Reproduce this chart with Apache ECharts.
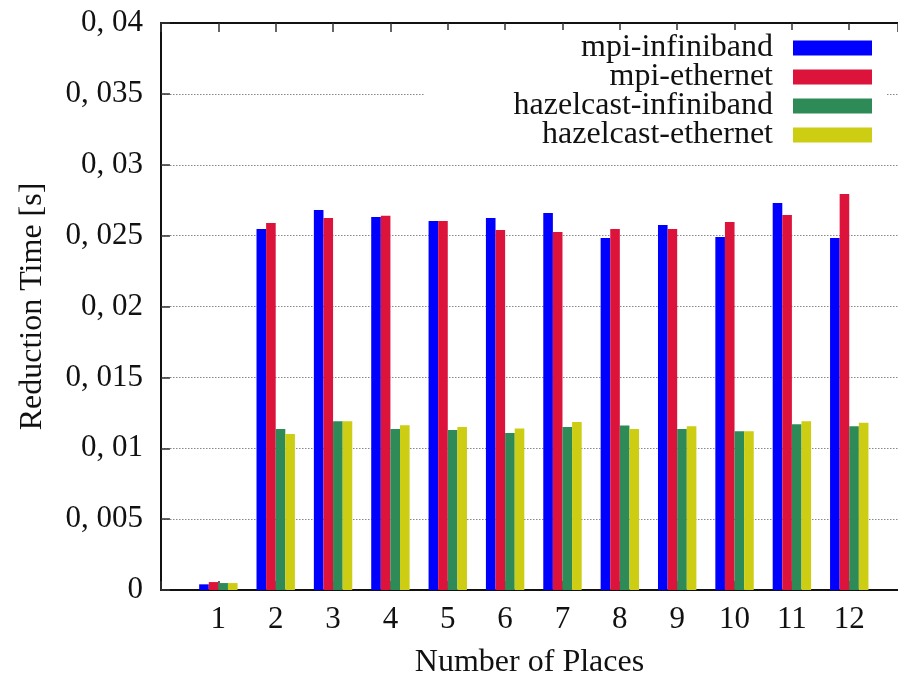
<!DOCTYPE html>
<html>
<head>
<meta charset="utf-8">
<script src="https://cdn.jsdelivr.net/npm/echarts@6/dist/echarts.min.js"></script>
<style>
  html, body { margin: 0; padding: 0; background: #fff; }
  #chart { width: 898px; height: 677px; }
</style>
</head>
<body>
<div id="chart"></div>
<script>
// Number of places (x positions of the bar groups)
const places = [1, 2, 3, 4, 5, 6, 7, 8, 9, 10, 11, 12];

// Reduction time in seconds for each configuration
const mpiInfiniband       = [0.00040, 0.02547, 0.02681, 0.02631, 0.02603, 0.02624, 0.02660, 0.02483, 0.02575, 0.02490, 0.02730, 0.02483];
const mpiEthernet         = [0.00056, 0.02589, 0.02624, 0.02641, 0.02603, 0.02540, 0.02526, 0.02547, 0.02547, 0.02596, 0.02646, 0.02794];
const hazelcastInfiniband = [0.00049, 0.01135, 0.01190, 0.01135, 0.01128, 0.01107, 0.01150, 0.01160, 0.01135, 0.01120, 0.01170, 0.01156];
const hazelcastEthernet   = [0.00049, 0.01100, 0.01190, 0.01163, 0.01150, 0.01140, 0.01185, 0.01135, 0.01156, 0.01120, 0.01190, 0.01180];

const seriesNames = ['mpi-infiniband', 'mpi-ethernet', 'hazelcast-infiniband', 'hazelcast-ethernet'];
const seriesValues = [mpiInfiniband, mpiEthernet, hazelcastInfiniband, hazelcastEthernet];
const seriesColors = ['#0000ff', '#dc143c', '#2e8b57', '#cdcd14'];

const FONT = '"Liberation Serif", "DejaVu Serif", serif';

// x range runs from 0 to 13; the window cuts the plot just before 13
const X_MIN = 0;
const X_MAX = 12.85;

// y tick labels use a decimal comma: 0, 005
function fmtY(v) {
  if (v === 0) return '0';
  return String(Number(v.toFixed(3))).replace('.', ', ');
}

const chart = echarts.init(document.getElementById('chart'), null, { renderer: 'canvas' });

const axisLineStyle = { color: '#111', width: 2 };
const tickStyle = { show: true, inside: true, length: 9, lineStyle: { color: '#333', width: 1.5 } };

chart.setOption({
  animation: false,
  backgroundColor: '#fff',
  grid: { left: 161, top: 23, right: 0, height: 567, containLabel: false, outerBoundsMode: 'none' },
  graphic: [{
    type: 'rect',
    z: 1,
    shape: { x: 425, y: 30, width: 462, height: 118 },
    style: { fill: '#fff' }
  }],
  legend: {
    z: 5,
    orient: 'vertical',
    align: 'right',
    right: 26,
    top: 32,
    padding: 0,
    itemWidth: 79,
    itemHeight: 15,
    itemGap: -3,
    icon: 'rect',
    data: seriesNames,
    textStyle: {
      fontFamily: FONT,
      fontSize: 32,
      color: '#111',
      lineHeight: 29,
      padding: [0, 15, 0, 0]
    }
  },
  xAxis: [{
    type: 'value',
    position: 'bottom',
    min: X_MIN,
    max: X_MAX,
    interval: 1,
    name: 'Number of Places',
    nameLocation: 'middle',
    nameGap: 57,
    nameTextStyle: { fontFamily: FONT, fontSize: 32, color: '#111' },
    axisLine: { show: true, onZero: false, lineStyle: axisLineStyle },
    axisTick: tickStyle,
    axisLabel: {
      margin: 14,
      fontFamily: FONT,
      fontSize: 31,
      color: '#111',
      showMaxLabel: false,
      formatter: v => (v >= 1 && v <= 12) ? String(v) : ''
    },
    splitLine: { show: false }
  }, {
    type: 'value',
    position: 'top',
    min: X_MIN,
    max: X_MAX,
    interval: 1,
    axisLine: { show: true, onZero: false, lineStyle: axisLineStyle },
    axisTick: tickStyle,
    axisLabel: { show: false },
    splitLine: { show: false }
  }],
  yAxis: {
    type: 'value',
    min: 0,
    max: 0.04,
    interval: 0.005,
    name: 'Reduction Time [s]',
    nameLocation: 'middle',
    nameGap: 112,
    nameRotate: 90,
    nameTextStyle: { fontFamily: FONT, fontSize: 32, color: '#111' },
    axisLine: { show: true, onZero: false, lineStyle: axisLineStyle },
    axisTick: tickStyle,
    axisLabel: {
      margin: 18,
      fontFamily: FONT,
      fontSize: 31,
      color: '#111',
      formatter: fmtY
    },
    splitLine: {
      show: true,
      lineStyle: { color: '#888', width: 1.2, type: [1.5, 1.5] }
    }
  },
  series: seriesNames.map((name, k) => ({
    name: name,
    type: 'bar',
    xAxisIndex: 0,
    z: 2,
    barWidth: 9.6,
    barGap: '0%',
    itemStyle: { color: seriesColors[k] },
    data: places.map((p, i) => [p, seriesValues[k][i]])
  }))
});
</script>
</body>
</html>
